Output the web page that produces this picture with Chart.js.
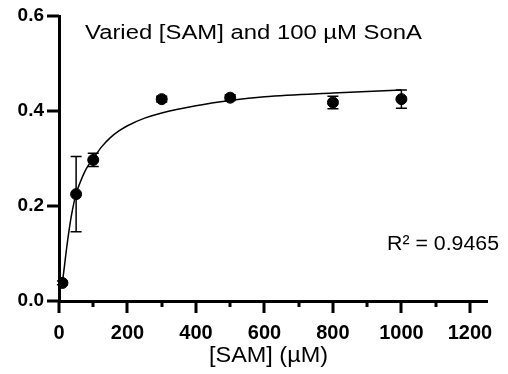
<!DOCTYPE html>
<html>
<head>
<meta charset="utf-8">
<script src="https://cdn.jsdelivr.net/npm/chart.js@4.4.1/dist/chart.umd.min.js"></script>
<style>
  html, body { margin: 0; padding: 0; background: #fff; }
  #wrap { width: 508px; height: 374px; position: relative; }
</style>
</head>
<body>
<div id="wrap"><canvas id="c" width="508" height="374"></canvas></div>
<script>
// ---- data ----
const concentrations = [10, 50, 100, 300, 500, 800, 1000];          // [SAM] (µM)
const meanActivity   = [0.038, 0.225, 0.297, 0.425, 0.428, 0.418, 0.425];
const errorSD        = [0.004, 0.079, 0.014, 0.006, 0.006, 0.013, 0.019];
const fitX = [10, 15, 22, 30, 37, 50, 62, 75, 87, 100, 125, 150, 175, 200, 250, 300, 400, 500, 600, 800, 1000];
const fitY = [0.040, 0.068, 0.110, 0.152, 0.183, 0.226, 0.250, 0.272, 0.287, 0.300, 0.325, 0.344, 0.358, 0.369, 0.385, 0.396, 0.411, 0.422, 0.430, 0.438, 0.444];
const xTickValues = [0, 100, 200, 300, 400, 500, 600, 700, 800, 900, 1000, 1100, 1200];
const xLabelStep = 200;
const yTicks = [0.0, 0.2, 0.4, 0.6];
const titleText = 'Varied [SAM] and 100 µM SonA';
const r2Text = 'R² = 0.9465';
const xAxisTitle = '[SAM] (µM)';

const FONT = '"Liberation Sans", Arial, Helvetica, sans-serif';

const pointsData = concentrations.map((x, i) => ({ x: x, y: meanActivity[i] }));
const fitData = fitX.map((x, i) => ({ x: x, y: fitY[i] }));

function stretchText(ctx, text, x, y, size, weight, targetWidth, align) {
  ctx.save();
  ctx.font = weight + ' ' + size + 'px ' + FONT;
  ctx.textBaseline = 'alphabetic';
  ctx.textAlign = 'left';
  const w = ctx.measureText(text).width;
  const sx = targetWidth ? targetWidth / w : 1;
  let left = x;
  if (align === 'center') left = x - (w * sx) / 2;
  ctx.translate(left, y);
  ctx.scale(sx, 1);
  ctx.fillStyle = '#000';
  ctx.fillText(text, 0, 0);
  ctx.restore();
}

const decor = {
  id: 'decor',
  afterDatasetsDraw(chart) {
    const ctx = chart.ctx;
    const xs = chart.scales.x, ys = chart.scales.y;
    ctx.save();
    ctx.setLineDash([]);
    ctx.strokeStyle = '#000';
    ctx.lineWidth = 1.5;
    concentrations.forEach((c, i) => {
      const px = xs.getPixelForValue(c);
      const top = ys.getPixelForValue(meanActivity[i] + errorSD[i]);
      const bot = ys.getPixelForValue(meanActivity[i] - errorSD[i]);
      ctx.beginPath();
      ctx.moveTo(px, top); ctx.lineTo(px, bot);
      ctx.moveTo(px - 5.5, top); ctx.lineTo(px + 5.5, top);
      ctx.moveTo(px - 5.5, bot); ctx.lineTo(px + 5.5, bot);
      ctx.stroke();
    });
    ctx.restore();
  },
  afterDraw(chart) {
    const ctx = chart.ctx;
    const xs = chart.scales.x, ys = chart.scales.y;
    const area = chart.chartArea;
    ctx.save();
    ctx.fillStyle = '#000';
    yTicks.forEach(v => {
      const py = Math.round(ys.getPixelForValue(v));
      ctx.fillRect(area.left - 12, py - 1.5, 12, 3);
    });
    xTickValues.forEach(v => {
      const px = Math.round(xs.getPixelForValue(v));
      const len = (v % xLabelStep === 0) ? 12 : 6;
      ctx.fillRect(px - 1.5, area.bottom, 3, len);
    });
    ctx.restore();
    stretchText(ctx, titleText, 85, 39, 20, 'normal', 337, 'left');
    stretchText(ctx, r2Text, 387, 250, 20, 'normal', 112, 'left');
    stretchText(ctx, xAxisTitle, 268.5, 362, 22, 'normal', 119, 'center');
  }
};

new Chart(document.getElementById('c'), {
  type: 'scatter',
  data: {
    datasets: [
      {
        label: 'Fit',
        type: 'line',
        data: fitData,
        borderColor: '#000',
        borderWidth: 1.5,
        pointRadius: 0,
        fill: false,
        cubicInterpolationMode: 'monotone',
        order: 2
      },
      {
        label: 'Mean',
        data: pointsData,
        backgroundColor: '#000',
        borderColor: '#000',
        pointRadius: 5.5,
        pointHoverRadius: 5.5,
        order: 1
      }
    ]
  },
  options: {
    responsive: false,
    animation: false,
    devicePixelRatio: 1,
    layout: { padding: { left: 0, right: 21, top: 16, bottom: 0 } },
    plugins: { legend: { display: false }, tooltip: { enabled: false }, title: { display: false } },
    scales: {
      x: {
        type: 'linear',
        min: 0, max: 1250,
        afterBuildTicks(scale) { scale.ticks = xTickValues.map(v => ({ value: v })); },
        afterFit(scale) { scale.height = 73; scale.paddingLeft = 0; scale.paddingRight = 0; },
        grid: { display: false, drawOnChartArea: false, drawTicks: true, tickLength: 12 },
        border: { display: true, color: '#000', width: 3 },
        ticks: {
          color: '#000',
          padding: 8,
          maxRotation: 0,
          autoSkip: false,
          font: { family: FONT, size: 20, weight: 'bold' },
          callback: v => (v % xLabelStep === 0 ? String(v) : '')
        }
      },
      y: {
        type: 'linear',
        min: 0, max: 0.6,
        afterBuildTicks(scale) { scale.ticks = yTicks.map(v => ({ value: v })); },
        afterFit(scale) { scale.width = 59; scale.paddingTop = 0; scale.paddingBottom = 0; },
        grid: { display: false, drawOnChartArea: false, drawTicks: true, tickLength: 12 },
        border: { display: true, color: '#000', width: 3 },
        ticks: {
          color: '#000',
          padding: 3,
          autoSkip: false,
          font: { family: FONT, size: 19, weight: 'bold' },
          callback: v => Number(v).toFixed(1)
        }
      }
    }
  },
  plugins: [decor]
});
</script>
</body>
</html>
